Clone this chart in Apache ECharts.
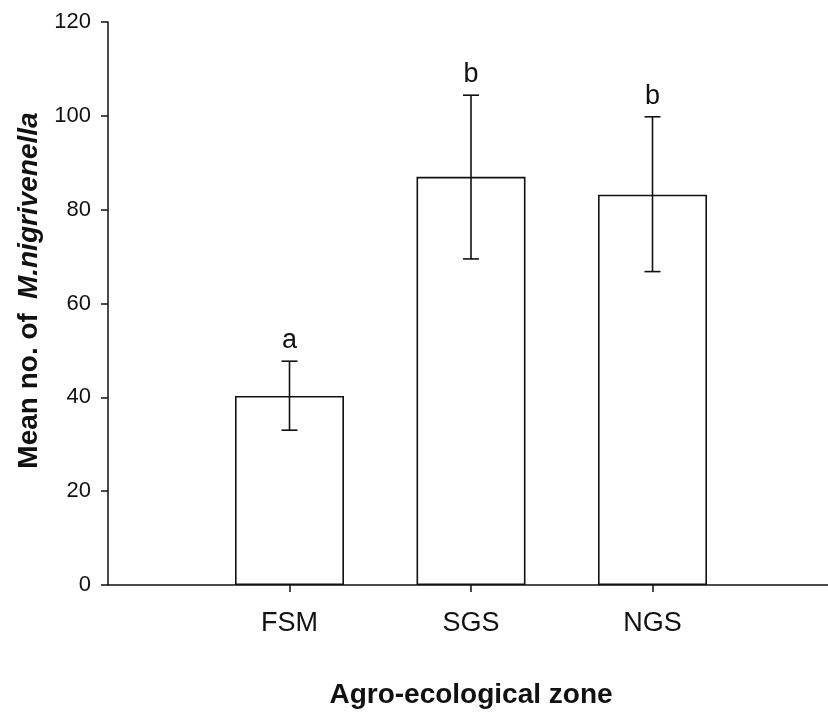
<!DOCTYPE html>
<html>
<head>
<meta charset="utf-8">
<script src="https://cdn.jsdelivr.net/npm/echarts@6/dist/echarts.min.js"></script>
<style>
  html, body { margin: 0; padding: 0; background: #fff; }
  #main { width: 828px; height: 712px; }
</style>
</head>
<body>
<div id="main"></div>
<script>
// empty slots at both ends give the axis its margins
var categories = ['', 'FSM', 'SGS', 'NGS', ''];
var means = [null, 40.3, 87.0, 83.2, null];
var errLow = [null, 33.0, 69.5, 66.8, null];
var errHigh = [null, 47.7, 104.4, 99.8, null];
var letters = ['', 'a', 'b', 'b', ''];

var errData = [];
for (var i = 0; i < categories.length; i++) {
    if (means[i] != null) {
        errData.push([i, errLow[i], errHigh[i], letters[i]]);
    }
}

var font = 'Liberation Sans, Arial, Helvetica, sans-serif';

var option = {
    animation: false,
    grid: { left: 108, top: 22, width: 726, height: 563, outerBoundsMode: 'none', containLabel: false },
    xAxis: {
        type: 'category',
        data: categories,
        boundaryGap: false,
        name: 'Agro-ecological zone',
        nameLocation: 'middle',
        nameGap: 96,
        nameTextStyle: { fontFamily: font, fontSize: 28, fontWeight: 'bold', color: '#111' },
        axisLine: { lineStyle: { color: '#111', width: 1.5 } },
        axisTick: {
            length: 7,
            lineStyle: { color: '#111', width: 1.5 },
            interval: function (index, value) { return value !== ''; }
        },
        axisLabel: { interval: 0, margin: 25, fontFamily: font, fontSize: 27, color: '#111' },
        splitLine: { show: false }
    },
    yAxis: {
        type: 'value',
        min: 0,
        max: 120,
        interval: 20,
        name: '{b|Mean no. of}{i|M.nigrivenella}',
        nameLocation: 'middle',
        nameRotate: 90,
        nameGap: 64,
        nameTextStyle: {
            padding: [0, 0, 0, 26],
            rich: {
                b: { fontFamily: font, fontSize: 28, fontWeight: 'bold', color: '#111' },
                i: { fontFamily: font, fontSize: 28, fontWeight: 'bold', fontStyle: 'italic', color: '#111', padding: [0, 0, 0, 14] }
            }
        },
        axisLine: { show: true, lineStyle: { color: '#111', width: 1.5 } },
        axisTick: { show: true, length: 7, lineStyle: { color: '#111', width: 1.5 } },
        axisLabel: { margin: 17, fontFamily: font, fontSize: 22, color: '#111' },
        splitLine: { show: false }
    },
    series: [
        {
            type: 'bar',
            data: means,
            barWidth: 109,
            itemStyle: { color: '#fff', borderColor: '#111', borderWidth: 1.6 }
        },
        {
            type: 'custom',
            data: errData,
            z: 5,
            renderItem: function (params, api) {
                var lo = api.coord([api.value(0), api.value(1)]);
                var hi = api.coord([api.value(0), api.value(2)]);
                var cap = 8;
                var st = { stroke: '#111', lineWidth: 1.6 };
                return {
                    type: 'group',
                    children: [
                        { type: 'line', shape: { x1: hi[0], y1: hi[1], x2: lo[0], y2: lo[1] }, style: st },
                        { type: 'line', shape: { x1: hi[0] - cap, y1: hi[1], x2: hi[0] + cap, y2: hi[1] }, style: st },
                        { type: 'line', shape: { x1: lo[0] - cap, y1: lo[1], x2: lo[0] + cap, y2: lo[1] }, style: st },
                        {
                            type: 'text',
                            style: {
                                text: api.value(3),
                                x: hi[0], y: hi[1] - 7,
                                align: 'center', verticalAlign: 'bottom',
                                font: '27px ' + font, fill: '#111'
                            }
                        }
                    ]
                };
            }
        }
    ]
};

var myChart = echarts.init(document.getElementById('main'));
myChart.setOption(option);
</script>
</body>
</html>
